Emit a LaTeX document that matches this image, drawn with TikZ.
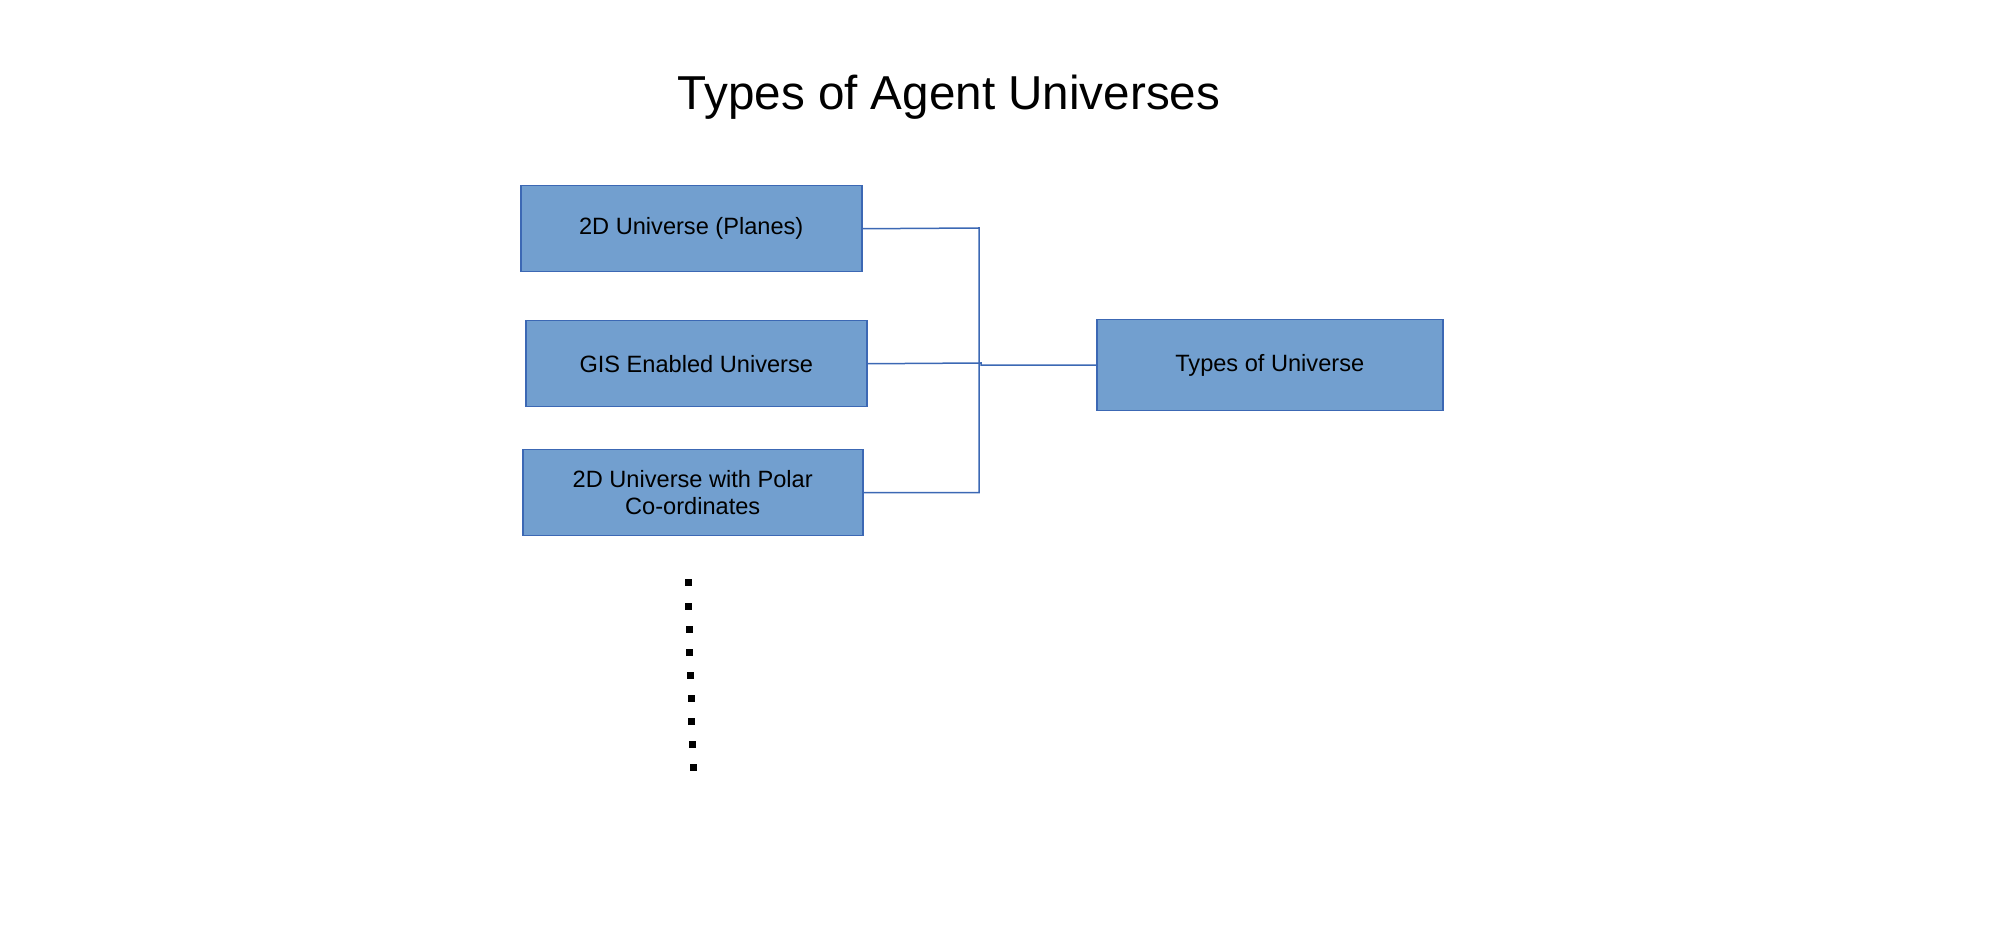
\documentclass[tikz,border=0pt]{standalone}
\usepackage{fontspec}
\setmainfont{Liberation Sans}
\definecolor{boxfill}{RGB}{114,159,207}
\definecolor{boxline}{RGB}{60,104,180}
\begin{document}
\begin{tikzpicture}[x=0.5pt,y=-0.5pt,
  ubox/.style={draw=boxline,line width=0.75pt,fill=boxfill,inner sep=0pt,
    align=center,font=\fontsize{11.8}{13.8}\selectfont,anchor=north west},
  conn/.style={draw=boxline,line width=0.75pt},
  dotsq/.style={fill=black}]
\useasboundingbox (0,0) rectangle (2016,945);
\node[font=\fontsize{23.8}{29}\selectfont] (title) at (949,97) {Types of Agent Universes};
\node[ubox,minimum width=170.5pt,minimum height=43pt] (b1) at (520,185) {\raisebox{-1pt}{2D Universe (Planes)}};
\node[ubox,minimum width=170.5pt,minimum height=43pt] (b2) at (525,320) {\raisebox{-0.5pt}{GIS Enabled Universe}};
\node[ubox,minimum width=170pt,minimum height=43pt] (b3) at (522,449) {2D Universe with Polar\\Co-ordinates};
\node[ubox,minimum width=173pt,minimum height=45.5pt] (r) at (1096,319) {\raisebox{-1pt}{Types of Universe}};
\coordinate (j1) at (979,228);
\coordinate (j2) at (981,363);
\draw[conn] (b1.east) -- (j1) |- (b3.east);
\draw[conn] (b2.east) -- (j2) -- (j2 |- r.west) -- (r.west);
\foreach \i in {0,...,8}{
  \fill[dotsq] ({688+\i*5/8-3.5},{583+\i*23-3.5}) rectangle ++(7,7);
}
\end{tikzpicture}
\end{document}
